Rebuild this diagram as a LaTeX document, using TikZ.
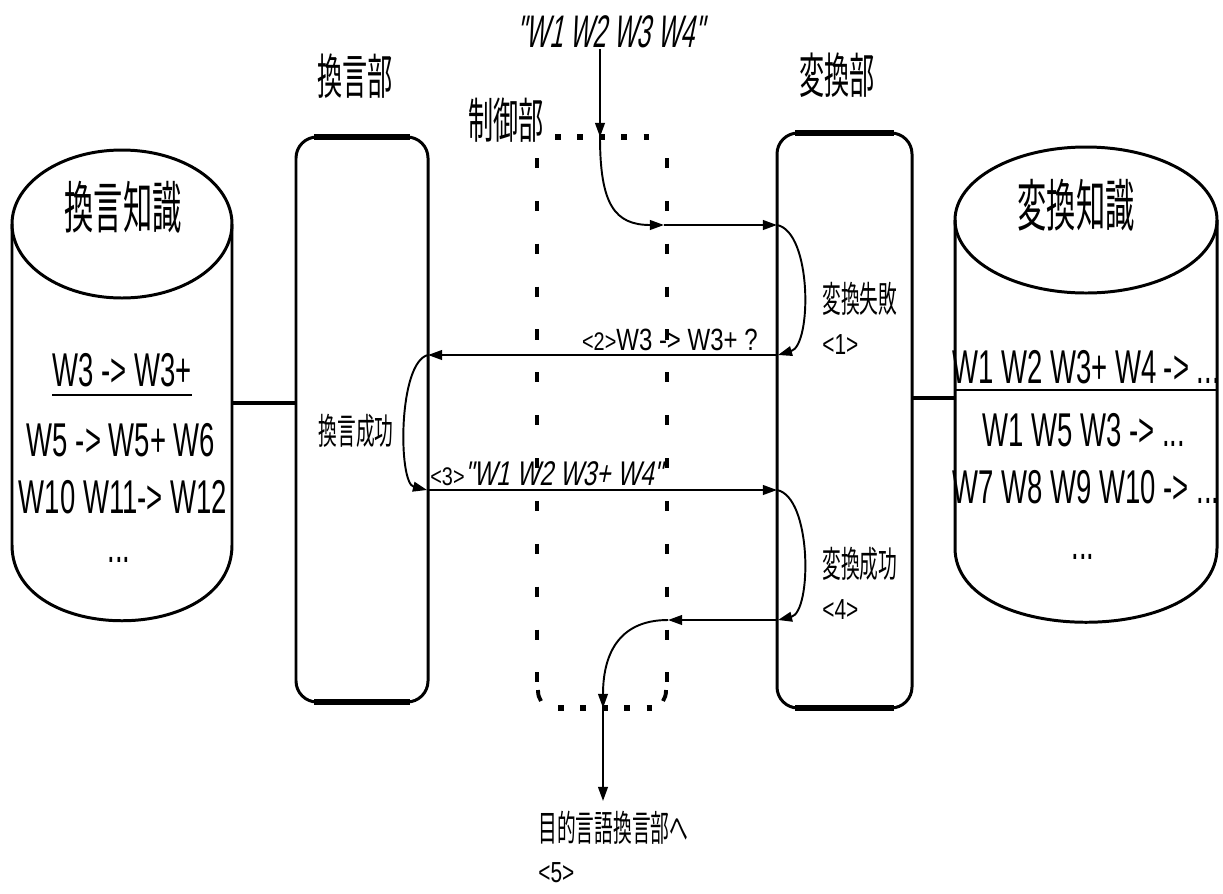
\documentclass[tikz,border=0pt]{standalone}
\usepackage{fontspec}
\usetikzlibrary{arrows.meta,calc,fit}
\newfontfamily\cjkfam[FakeStretch=0.52]{Noto Sans CJK JP}
\newfontfamily\narcyl[FakeStretch=0.58]{Liberation Sans}
\newfontfamily\narmid[FakeStretch=0.78]{Liberation Sans}
\newfontfamily\narsml[FakeStretch=0.72]{Liberation Sans}
\newfontfamily\narinp[FakeStretch=0.54,FakeSlant=0.2]{Liberation Sans}
\newfontfamily\narmidit[FakeStretch=0.71,FakeSlant=0.2]{Liberation Sans}
\newcommand\fcyl{\narcyl\fontsize{27}{30}\selectfont}
\newcommand\finp{\narinp\fontsize{26}{28}\selectfont}
\newcommand\fmid{\narmid\fontsize{17.5}{20}\selectfont}
\newcommand\fmidit{\narmidit\fontsize{19.5}{22}\selectfont}
\newcommand\fsml{\narmid\fontsize{14.5}{16}\selectfont}
\newcommand\fnum{\narsml\fontsize{16.5}{18}\selectfont}
\newcommand\fcjkbig{\cjkfam\fontsize{32}{34}\selectfont}
\newcommand\fcjkmid{\cjkfam\fontsize{27.5}{30}\selectfont}
\newcommand\fcjksml{\cjkfam\fontsize{20.5}{22}\selectfont}
\tikzset{
  boxline/.style={line width=1.7pt, rounded corners=0.42cm},
  edgethick/.style={line width=3pt},
  cylline/.style={line width=1.7pt},
  arr/.style={line width=1.1pt, -{Triangle[length=8pt,width=5.5pt]}},
  linkline/.style={line width=2.4pt},
  dotline/.style={line width=3pt, dash pattern=on 3.2pt off 9.4pt},
  sideline/.style={line width=2.2pt, dash pattern=on 5.7pt off 18.7pt},
  txt/.style={inner sep=0pt},
  area/.style={inner sep=0pt, outer sep=0pt}
}
\begin{document}
\begin{tikzpicture}[x=0.02cm,y=-0.02cm]
\path[fill=white] (0,0) rectangle (1223,893);
\useasboundingbox (0,0) rectangle (1223,893);

% ---------- left cylinder ----------
\node[area, fit={(12,224) (232,545)}] (lcyl) {};
\draw[cylline] (12,224) -- (12,545) .. controls (12,646) and (232,646) .. (232,545) -- (232,224);
\draw[cylline] (122,224) ellipse [x radius=110, y radius=74];
\node[txt, font=\fcjkbig] (lcylt) at (123,207) {換言知識};
\node[txt, font=\fcyl] (lk1t) at (122,370) {W3 -> W3+};
\draw[line width=1.3pt] (52,395) -- (192,395);
\node[txt, font=\fcyl] (lk2t) at (121,440) {W5 -> W5+ W6};
\node[txt, font=\fcyl] (lk3t) at (123,497) {W10 W11-> W12};
\node[txt, font=\fcyl] (lk4t) at (119,560) {...};

% ---------- right cylinder ----------
\node[area, fit={(955,220) (1217,548)}] (rcyl) {};
\draw[cylline] (955,220) -- (955,548) .. controls (955,647) and (1217,647) .. (1217,548) -- (1217,220);
\draw[cylline] (1086,220) ellipse [x radius=131, y radius=73];
\node[txt, font=\fcjkbig] (rcylt) at (1076,205) {変換知識};
\node[txt, font=\fcyl] (rk1t) at (1086,367) {W1 W2 W3+ W4 -> ...};
\draw[line width=1.3pt] (955,390) -- (1217,390);
\node[txt, font=\fcyl] (rk2t) at (1084,430) {W1 W5 W3 -> ...};
\node[txt, font=\fcyl] (rk3t) at (1086,487) {W7 W8 W9 W10 -> ...};
\node[txt, font=\fcyl] (rk4t) at (1083,557) {...};

% ---------- boxes ----------
\node[area, fit={(296,137) (428,702)}] (lbox) {};
\draw[boxline] (296,137) rectangle (428,702);
\draw[edgethick] (314,137) -- (410,137);
\draw[edgethick] (314,702) -- (410,702);
\node[area, fit={(777,133) (912,708)}] (rbox) {};
\draw[boxline] (777,133) rectangle (912,708);
\draw[edgethick] (795,133) -- (894,133);
\draw[edgethick] (795,708) -- (894,708);
\node[area, fit={(537,137) (668,708)}] (ctrl) {};
\draw[dotline] (555,137) -- (654,137);
\draw[dotline] (558,708) -- (652,708);
\draw[sideline] (537,158) -- (537,686);
\draw[sideline] (667,158) -- (667,686);
\draw[line width=2.2pt] (538,690) .. controls (538,695) and (539,698) .. (541,701);
\draw[line width=2.2pt] (666,690) .. controls (666,695) and (665,698) .. (663,701);

% ---------- titles ----------
\node[txt, font=\fcjkmid] (ltitle) at (355,76) {換言部};
\node[txt, font=\fcjkmid] (rtitle) at (837,75) {変換部};
\node[txt, font=\fcjkmid] (ctitle) at (506,120) {制御部};

% ---------- inner labels ----------
\node[txt, font=\fcjksml] (lsucc) at (356,431) {換言成功};
\node[txt, font=\fcjksml, anchor=west] (rfail) at (822,299) {変換失敗};
\node[txt, font=\fnum, anchor=west] (n1) at (822,345) {<1>};
\node[txt, font=\fcjksml, anchor=west] (rsucc) at (822,564) {変換成功};
\node[txt, font=\fnum, anchor=west] (n4) at (822,610) {<4>};
\node[txt, font=\fcjksml, anchor=west] (outl) at (538,828) {目的言語換言部へ};
\node[txt, font=\fnum, anchor=west] (n5) at (538,873) {<5>};

% ---------- input ----------
\node[txt, font=\finp] (inp) at (610,32) {"W1 W2 W3 W4"};

% ---------- connector points ----------
\coordinate (inTop) at (600,137);
\coordinate (c1) at (664,225);
\coordinate (r1) at (777,225);
\coordinate (r2) at (778,355);
\coordinate (l2) at (428,355);
\coordinate (l3) at (427,490);
\coordinate (r3) at (777,490);
\coordinate (r4) at (778,620);
\coordinate (c4) at (668,620);
\coordinate (c5) at (603,708);
\coordinate (lk) at (232,403);
\coordinate (rk) at (955,398);

% ---------- links ----------
\draw[linkline] (lk) -- (lk -| lbox.west);
\draw[linkline] (rbox.east |- rk) -- (rk);

% ---------- arrows ----------
\draw[arr] (inp.south -| inTop) -- (inTop);
\draw[arr] (inTop) .. controls (600,205) and (615,225) .. (c1);
\draw[arr] (c1) -- (r1);
\draw[arr] (r1) .. controls (812,232) and (812,345) .. (r2);
\draw[arr] (r2) -- (l2);
\draw[arr] (l2) .. controls (398,362) and (398,483) .. (l3);
\draw[arr] (l3) -- (r3);
\draw[arr] (r3) .. controls (812,497) and (812,612) .. (r4);
\draw[arr] (r4) -- (c4);
\draw[arr] (c4) .. controls (622,620) and (603,650) .. (c5);
\draw[arr] (c5) -- ($(c5 |- outl.north)+(0,-10)$);

% ---------- arrow labels ----------
\node[txt, anchor=base east] (lab2) at (758,350) {{\fsml <2>}{\fmid W3 -> W3+ ?}};
\node[txt, anchor=base west] (lab3) at (430,485) {{\fsml <3>}{\fmidit "W1 W2 W3+ W4"}};
\end{tikzpicture}
\end{document}
